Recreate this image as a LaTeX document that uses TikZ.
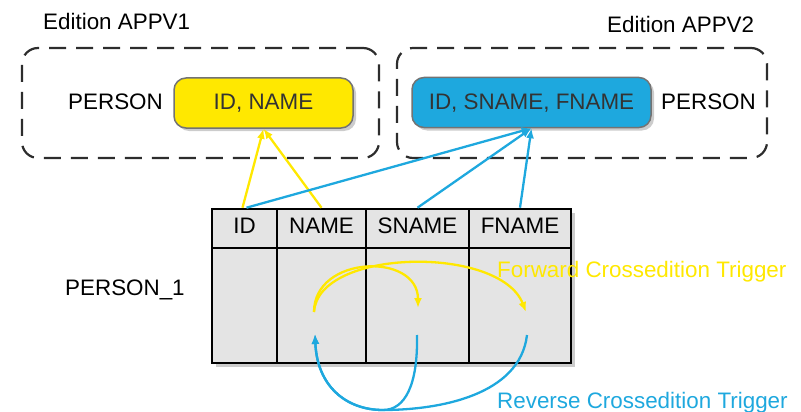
\documentclass[tikz,border=0pt]{standalone}
\usepackage{fontspec}
\setmainfont{Liberation Sans}
\usetikzlibrary{arrows.meta,shadows}
\definecolor{yel}{RGB}{255,232,0}
\definecolor{blu}{RGB}{30,168,222}
\definecolor{cellgray}{RGB}{228,228,228}
\definecolor{dashgray}{RGB}{45,45,45}
\begin{document}
\begin{tikzpicture}[x=1pt,y=-1pt,
  every node/.style={font=\fontsize{22.4}{26}\selectfont, inner sep=0pt},
  edition/.style={draw=dashgray, line width=2.2pt, dash pattern=on 17pt off 10pt, rounded corners=16pt},
  attrbox/.style={draw=black!55, line width=1.5pt, rounded corners=12pt, minimum height=50pt,
    text height=16pt, text depth=2pt, text=black!80,
    drop shadow={opacity=0.4, shadow xshift=3pt, shadow yshift=-3pt}},
  hcell/.style={draw=black, line width=2.6pt, fill=cellgray, minimum height=39pt, text height=16pt, text depth=7pt},
  bcell/.style={draw=black, line width=2.6pt, fill=cellgray, minimum height=115pt},
  lbl/.style={anchor=base west},
  yline/.style={draw=yel, line width=2.3pt},
  bline/.style={draw=blu, line width=2.3pt},
  tip/.style={-{Latex[length=10pt,width=8pt]}}
]
\useasboundingbox (0,0) rectangle (801,412);

% edition containers
\node[edition, minimum width=357pt, minimum height=110pt] (ed1) at (200.5,103) {};
\node[edition, minimum width=370pt, minimum height=110pt] (ed2) at (582,103) {};
\node[lbl] (ed1lbl) at (43,30) {Edition APPV1};
\node[lbl] (ed2lbl) at (607,33) {Edition APPV2};

% person views
\node[lbl] (p1) at (68,110) {PERSON};
\node[attrbox, fill=yel, minimum width=179pt] (ybox) at (263.5,103) {ID, NAME};
\node[attrbox, fill=blu, minimum width=239pt] (bbox) at (531.5,102.5) {ID, SNAME, FNAME};
\node[lbl] (p2) at (661,110) {PERSON};

% table
\path[fill=cellgray, drop shadow={opacity=0.4, shadow xshift=4pt, shadow yshift=-4pt}] (212,209) rectangle (571,363);
\node[hcell, minimum width=65pt] (hid) at (244.5,228.5) {ID};
\node[hcell, minimum width=89pt] (hname) at (321.5,228.5) {NAME};
\node[hcell, minimum width=103pt] (hsname) at (417.5,228.5) {SNAME};
\node[hcell, minimum width=102pt] (hfname) at (520,228.5) {FNAME};
\node[bcell, minimum width=65pt] (bid) at (244.5,305.5) {};
\node[bcell, minimum width=89pt] (bname) at (321.5,305.5) {};
\node[bcell, minimum width=103pt] (bsname) at (417.5,305.5) {};
\node[bcell, minimum width=102pt] (bfname) at (520,305.5) {};
\node[lbl] (tname) at (65,295) {PERSON\_1};

% mapping connectors
\draw[yline, tip] ([xshift=-2pt]hid.north) -- (ybox.south);
\draw[yline, tip] (hname.north) -- (ybox.south);
\draw[bline, tip] ([xshift=2pt]hid.north) -- (bbox.south);
\draw[bline, tip] (hsname.north) -- (bbox.south);
\draw[bline, tip] (hfname.north) -- (bbox.south);

% trigger arrows
\coordinate (fs) at (314,312);
\coordinate (ft1) at (418,308);
\coordinate (ft2) at (526,312);
\coordinate (rs1) at (417,335);
\coordinate (rs2) at (527,335);
\coordinate (rt) at (315,334);
\draw[yline, tip] (fs) .. controls (314,255) and (418,252) .. (ft1);
\draw[yline, tip] (fs) .. controls (318,248) and (500,245) .. (ft2);
\draw[bline, tip] (rs1) .. controls (418,385) and (405,410) .. (383,410) .. controls (345,410) and (317,385) .. (rt);
\draw[bline, tip] (rs2) .. controls (520,395) and (440,410) .. (383,410) .. controls (345,410) and (317,385) .. (rt);

\node[lbl, text=yel] (fwd) at (497,277) {Forward Crossedition Trigger};
\node[lbl, text=blu] (rev) at (497,408) {Reverse Crossedition Trigger};
\end{tikzpicture}
\end{document}
